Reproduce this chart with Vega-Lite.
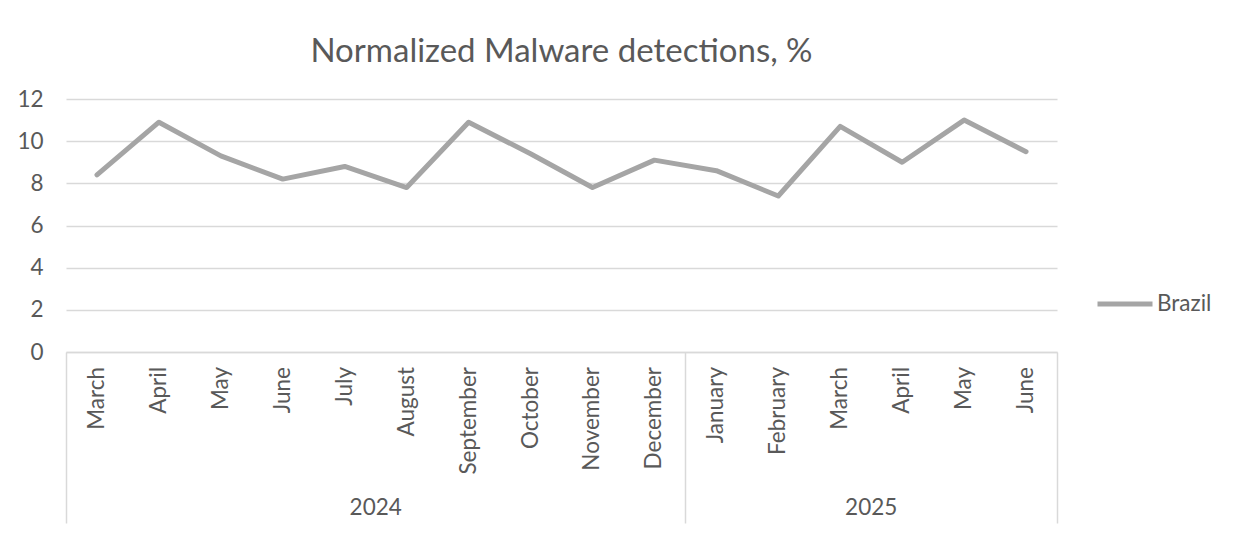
{
  "$schema": "https://vega.github.io/schema/vega-lite/v6.json",
  "autosize": {"type": "none"},
  "padding": {"left": 66, "top": 99, "right": 177, "bottom": 183},
  "width": 991,
  "height": 253,
  "background": "white",
  "title": {
    "text": "Normalized Malware detections, %",
    "frame": "group",
    "anchor": "middle",
    "orient": "top",
    "baseline": "alphabetic",
    "offset": -7,
    "font": "Lato",
    "fontSize": 33,
    "fontWeight": "normal",
    "color": "#595959"
  },
  "datasets": {
    "detections": [
      {"idx": 0, "year": "2024", "month": "March", "value": 8.4, "country": "Brazil"},
      {"idx": 1, "year": "2024", "month": "April", "value": 10.9, "country": "Brazil"},
      {"idx": 2, "year": "2024", "month": "May", "value": 9.3, "country": "Brazil"},
      {"idx": 3, "year": "2024", "month": "June", "value": 8.2, "country": "Brazil"},
      {"idx": 4, "year": "2024", "month": "July", "value": 8.8, "country": "Brazil"},
      {"idx": 5, "year": "2024", "month": "August", "value": 7.8, "country": "Brazil"},
      {"idx": 6, "year": "2024", "month": "September", "value": 10.9, "country": "Brazil"},
      {"idx": 7, "year": "2024", "month": "October", "value": 9.4, "country": "Brazil"},
      {"idx": 8, "year": "2024", "month": "November", "value": 7.8, "country": "Brazil"},
      {"idx": 9, "year": "2024", "month": "December", "value": 9.1, "country": "Brazil"},
      {"idx": 10, "year": "2025", "month": "January", "value": 8.6, "country": "Brazil"},
      {"idx": 11, "year": "2025", "month": "February", "value": 7.4, "country": "Brazil"},
      {"idx": 12, "year": "2025", "month": "March", "value": 10.7, "country": "Brazil"},
      {"idx": 13, "year": "2025", "month": "April", "value": 9.0, "country": "Brazil"},
      {"idx": 14, "year": "2025", "month": "May", "value": 11.0, "country": "Brazil"},
      {"idx": 15, "year": "2025", "month": "June", "value": 9.5, "country": "Brazil"}
    ]
  },
  "data": {"name": "detections"},
  "layer": [
    {
      "mark": {"type": "line", "strokeWidth": 5, "strokeJoin": "round", "strokeCap": "round"},
      "encoding": {
        "x": {
          "field": "idx",
          "type": "quantitative",
          "scale": {"domain": [-0.5, 15.5], "nice": false, "zero": false},
          "axis": {
            "values": [-0.5, 9.5, 15.5],
            "labels": false,
            "grid": false,
            "ticks": true,
            "tickSize": 171,
            "tickColor": "#d9d9d9",
            "tickWidth": 1.5,
            "domainColor": "#d9d9d9",
            "domainWidth": 1.5,
            "title": null
          }
        },
        "y": {
          "field": "value",
          "type": "quantitative",
          "scale": {"domain": [0, 12], "nice": false},
          "axis": {
            "values": [0, 2, 4, 6, 8, 10, 12],
            "grid": true,
            "gridColor": "#d9d9d9",
            "gridWidth": 1.5,
            "domain": false,
            "ticks": false,
            "labelPadding": 23,
            "labelFont": "Lato",
            "labelFontSize": 22.5,
            "labelColor": "#595959",
            "title": null
          }
        },
        "color": {
          "field": "country",
          "type": "nominal",
          "scale": {"domain": ["Brazil"], "range": ["#a5a5a5"]},
          "legend": {
            "orient": "none",
            "legendX": 1029,
            "legendY": 175,
            "title": null,
            "symbolType": "stroke",
            "symbolSize": 3025,
            "symbolStrokeWidth": 5,
            "labelFont": "Lato",
            "labelFontSize": 22.5,
            "labelColor": "#595959",
            "labelOffset": 2,
            "padding": 0
          }
        }
      }
    },
    {
      "mark": {"type": "text", "angle": 270, "align": "right", "baseline": "middle", "dx": -15, "font": "Lato", "fontSize": 22.5, "color": "#595959"},
      "encoding": {
        "x": {"field": "idx", "type": "quantitative"},
        "y": {"datum": 0},
        "text": {"field": "month"}
      }
    },
    {
      "transform": [{"aggregate": [{"op": "mean", "field": "idx", "as": "mid"}], "groupby": ["year"]}],
      "mark": {"type": "text", "align": "center", "baseline": "middle", "dy": 156, "font": "Lato", "fontSize": 22.5, "color": "#595959"},
      "encoding": {
        "x": {"field": "mid", "type": "quantitative"},
        "y": {"datum": 0},
        "text": {"field": "year"}
      }
    }
  ],
  "config": {
    "view": {"stroke": null}
  }
}
